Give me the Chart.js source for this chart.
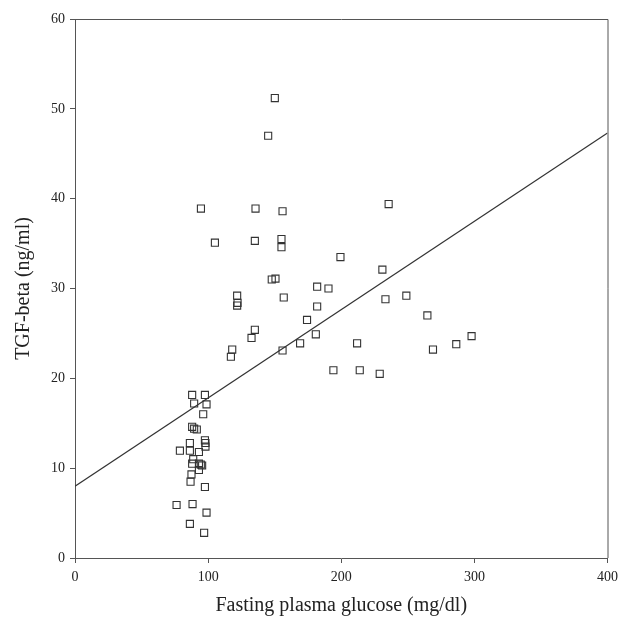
<!DOCTYPE html>
<html>
<head>
<meta charset="utf-8">
<script src="https://cdn.jsdelivr.net/npm/chart.js@4"></script>
<style>
html,body{margin:0;padding:0;background:#fff;overflow:hidden;}
canvas{display:block;}
</style>
</head>
<body>
<canvas id="c" width="624" height="619"></canvas>
<script>
// Data
const glucose = [
  150.1,145.1,94.6,135.6,155.9,235.6,105.1,135.1,155.1,155.1,
  199.4,230.9,147.8,150.6,181.9,190.4,156.8,121.8,122.1,121.8,
  233.2,248.9,181.9,174.3,264.7,135.1,132.6,180.9,169.1,211.9,
  297.9,286.4,268.9,118.1,117.1,155.9,194.1,213.9,228.9,
  88.0,97.6,89.5,98.8,96.3,88.0,89.5,91.5,97.6,98.0,
  98.0,86.3,78.8,86.3,93.1,88.8,88.0,93.1,94.5,95.5,
  93.1,87.5,86.8,97.6,76.3,88.3,98.8,86.3,97.0
];
const tgfBeta = [
  51.2,47.0,38.9,38.9,38.6,39.4,35.1,35.3,35.5,34.6,
  33.5,32.1,31.0,31.1,30.2,30.0,29.0,29.2,28.4,28.1,
  28.8,29.2,28.0,26.5,27.0,25.4,24.5,24.9,23.9,23.9,
  24.7,23.8,23.2,23.2,22.4,23.1,20.9,20.9,20.5,
  18.15,18.15,17.2,17.1,16.0,14.6,14.4,14.3,13.1,12.8,
  12.4,12.8,11.95,11.95,11.8,11.0,10.5,10.5,10.4,10.3,
  9.8,9.3,8.5,7.9,5.9,6.0,5.05,3.8,2.8
];
const fitX = [0, 400];
const fitY = [8.0, 47.3];
const xTicks = [0, 100, 200, 300, 400];
const yTicks = [0, 10, 20, 30, 40, 50, 60];
const xTitle = 'Fasting plasma glucose (mg/dl)';
const yTitle = 'TGF-beta (ng/ml)';

const points = glucose.map((g, i) => ({x: g, y: tgfBeta[i]}));
const fitLine = fitX.map((g, i) => ({x: g, y: fitY[i]}));

const serif = "'Liberation Serif', 'Times New Roman', serif";
const axisColor = '#555';

const boxPlugin = {
  id: 'box',
  afterDraw(chart) {
    const {ctx, chartArea: a} = chart;
    ctx.save();
    ctx.strokeStyle = axisColor;
    ctx.lineWidth = 1;
    ctx.beginPath();
    ctx.moveTo(a.left, a.top + 0.5);
    ctx.lineTo(a.right + 0.5, a.top + 0.5);
    ctx.lineTo(a.right + 0.5, a.bottom);
    ctx.stroke();
    ctx.restore();
  }
};

new Chart(document.getElementById('c'), {
  type: 'scatter',
  data: {
    datasets: [
      {
        type: 'line',
        data: fitLine,
        borderColor: '#333',
        borderWidth: 1.2,
        pointRadius: 0,
        fill: false,
        tension: 0,
        order: 2
      },
      {
        data: points,
        pointStyle: 'rect',
        pointRadius: 5,
        pointBorderWidth: 1.1,
        pointBorderColor: '#333',
        pointBackgroundColor: 'rgba(255,255,255,0)',
        order: 1
      }
    ]
  },
  options: {
    responsive: false,
    animation: false,
    layout: {padding: {top: 19, right: 13, bottom: 0, left: 0}},
    plugins: {legend: {display: false}, tooltip: {enabled: false}},
    scales: {
      x: {
        type: 'linear',
        min: 0, max: 400,
        afterBuildTicks(s) { s.ticks = xTicks.map(v => ({value: v})); },
        afterFit(s) { s.height = 61; },
        grid: {display: true, drawOnChartArea: false, drawTicks: true, tickLength: 5, color: axisColor},
        border: {display: true, color: axisColor, width: 1},
        ticks: {color: '#222', font: {family: serif, size: 14}, padding: 6, maxRotation: 0},
        title: {display: true, text: xTitle, color: '#222', font: {family: serif, size: 20}, padding: {top: 0, bottom: 1}}
      },
      y: {
        type: 'linear',
        min: 0, max: 60,
        afterBuildTicks(s) { s.ticks = yTicks.map(v => ({value: v})); },
        afterFit(s) { s.width = 75; },
        grid: {display: true, drawOnChartArea: false, drawTicks: true, tickLength: 5, color: axisColor},
        border: {display: true, color: axisColor, width: 1},
        ticks: {color: '#222', font: {family: serif, size: 14}, padding: 5},
        title: {display: true, text: yTitle, color: '#222', font: {family: serif, size: 20}, padding: {top: 12, bottom: 0}}
      }
    }
  },
  plugins: [boxPlugin]
});
</script>
</body>
</html>
